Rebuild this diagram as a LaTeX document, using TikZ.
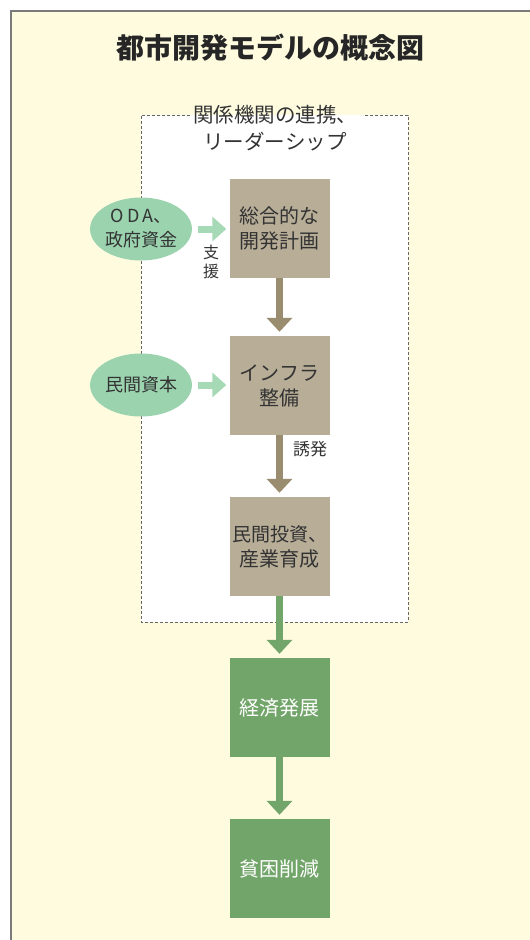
\documentclass[tikz,border=0pt]{standalone}
\usepackage{fontspec}
\setmainfont{Noto Sans CJK JP}
\usetikzlibrary{arrows.meta,shapes.geometric}
\definecolor{panel}{HTML}{FFFBDF}
\definecolor{panelline}{HTML}{7A7A7A}
\definecolor{tanbox}{HTML}{B8AE98}
\definecolor{tanarrow}{HTML}{9A8C6E}
\definecolor{greenbox}{HTML}{72A569}
\definecolor{lightgreen}{HTML}{9BD3AF}
\definecolor{lightarrow}{HTML}{A6D9B6}
\definecolor{txt}{HTML}{333333}
\definecolor{dashline}{HTML}{666666}
\tikzset{
  stagebox/.style={rectangle, minimum width=100pt, minimum height=99pt, inner sep=0pt, align=center,
    font={\fontsize{20}{25}\selectfont}},
  tanstage/.style={stagebox, fill=tanbox, text=txt},
  greenstage/.style={stagebox, fill=greenbox, text=white},
  source/.style={ellipse, fill=lightgreen, minimum width=98pt, minimum height=63pt, inner sep=0pt,
    align=center, text=txt, font={\fontsize{18}{24}\selectfont}},
  bigarrow/.style={line width=7pt, -{Triangle[width=25pt,length=14pt]}, shorten >=4pt},
  sidearrow/.style={line width=7pt, draw=lightarrow, -{Triangle[width=24pt,length=14pt]}, shorten <=6pt, shorten >=3pt},
  lbl/.style={text=txt, align=center, inner sep=0pt}
}
\begin{document}
\begin{tikzpicture}[x=1pt,y=-1pt]
\useasboundingbox (0,0) rectangle (530,940);
% panel
\fill[panel] (11,11) rectangle (540,950);
\draw[panelline, line width=2pt] (11,950) -- (11,11) -- (540,11);
% title
\node[lbl, font={\fontsize{28}{32}\selectfont\bfseries}, text=black!85] (title) at (270,48) {都市開発モデルの概念図};
% dashed frame
\fill[white] (141,115) rectangle (408,622);
\draw[dashline, line width=0.9pt, dash pattern=on 3pt off 2pt] (190,115) -- (141,115) -- (141,622) -- (408,622) -- (408,115) -- (363,115);
\node[lbl, font={\fontsize{20.5}{27}\selectfont}] (frame) at (275,128) {関係機関の連携、\\リーダーシップ};
% stages
\node[tanstage] (plan) at (279.5,228.5) {総合的な\\開発計画};
\node[tanstage] (infra) at (279.5,385.5) {インフラ\\整備};
\node[tanstage] (invest) at (279.5,546.5) {{\fontsize{19}{25}\selectfont 民間投資、}\\産業育成};
\node[greenstage] (econ) at (279.5,707.5) {経済発展};
\node[greenstage] (poverty) at (279.5,868.5) {貧困削減};
% sources
\node[source] (oda) at (141,229) {O\,D\,A、\\政府資金};
\node[source] (private) at (141,385) {民間資本};
% arrows
\draw[bigarrow, draw=tanarrow] (plan) -- (infra);
\draw[bigarrow, draw=tanarrow] (infra) -- (invest);
\draw[bigarrow, draw=greenbox] (invest) -- (econ);
\draw[bigarrow, draw=greenbox] (econ) -- (poverty);
\draw[sidearrow] (oda.east) -- (plan.west |- oda.east);
\draw[sidearrow] (private.east) -- (infra.west |- private.east);
% labels
\node[lbl, font={\fontsize{16}{19}\selectfont}] (support) at (211,262) {支\\援};
\node[lbl, font={\fontsize{17}{20}\selectfont}] (induce) at (310,449) {誘発};
\end{tikzpicture}
\end{document}
